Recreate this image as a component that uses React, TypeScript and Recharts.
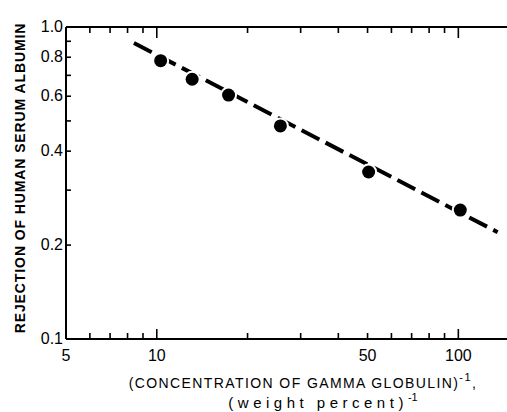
import { ComposedChart, Line, Scatter, XAxis, YAxis } from 'recharts';

// measured points: 1 / concentration of gamma globulin vs rejection of HSA
const concInv = [10.3, 13.1, 17.3, 25.7, 50.4, 101.5];
const rejection = [0.78, 0.68, 0.605, 0.482, 0.343, 0.259];

// fitted straight line (log-log), end points
const fitX = [8.4, 135];
const fitY = [0.889, 0.22];

const xTicks = [5, 6, 7, 8, 9, 10, 20, 30, 40, 50, 60, 70, 80, 90, 100];
const xTickLabels: Record<number, string> = { 5: '5', 10: '10', 50: '50', 100: '100' };
const yTicks = [0.1, 0.2, 0.3, 0.4, 0.5, 0.6, 0.7, 0.8, 0.9, 1.0];
const yTickLabels: Record<number, string> = { 0.1: '0.1', 0.2: '0.2', 0.4: '0.4', 0.6: '0.6', 0.8: '0.8', 1: '1.0' };

const points = concInv.map((x, i) => ({ x, y: rejection[i] }));
const fit = fitX.map((x, i) => ({ x, y: fitY[i] }));

const font = '"Liberation Sans", Arial, sans-serif';

const BottomTick = (props: any) => {
  const { x, y, payload } = props;
  const v = payload.value;
  const major = v === 10 || v === 100;
  const label = xTickLabels[v];
  return (
    <g>
      {v !== 5 && <line x1={x} x2={x} y1={y} y2={y - (major ? 10 : 6)} stroke="#000" strokeWidth={1.6} />}
      {label && (
        <text x={x} y={y + 22} textAnchor="middle" fontSize={16} fontFamily={font} fill="#000">
          {label}
        </text>
      )}
    </g>
  );
};

const TopTick = (props: any) => {
  const { x, y, payload } = props;
  const v = payload.value;
  if (v === 5) return <g />;
  const major = v === 10 || v === 100;
  return <line x1={x} x2={x} y1={y} y2={y + (major ? 11 : 6)} stroke="#000" strokeWidth={1.6} />;
};

const LeftTick = (props: any) => {
  const { x, y, payload } = props;
  const v = payload.value;
  const label = yTickLabels[Math.round(v * 10) / 10];
  return (
    <g>
      {v > 0.15 && v < 0.95 && <line x1={x} x2={x + 5} y1={y} y2={y} stroke="#000" strokeWidth={1.6} />}
      {label && (
        <text x={x - 3} y={y + 5} textAnchor="end" fontSize={16} fontFamily={font} fill="#000">
          {label}
        </text>
      )}
    </g>
  );
};

const XTitle = () => (
  <g fontFamily={font} fill="#000">
    <text x={303} y={388} textAnchor="middle" fontSize={14} letterSpacing={1.4}>
      (CONCENTRATION OF GAMMA GLOBULIN)
      <tspan dy={-7} fontSize={11}>-1</tspan>
      <tspan dy={7}>,</tspan>
    </text>
    <text x={323} y={408} textAnchor="middle" fontSize={15} letterSpacing={4.5}>
      (weight percent)
      <tspan dy={-7} fontSize={11} letterSpacing={0}>-1</tspan>
    </text>
  </g>
);

const YTitle = () => (
  <text
    x={20}
    y={178}
    transform="rotate(-90, 20, 178)"
    textAnchor="middle"
    dominantBaseline="central"
    fontSize={14}
    fontWeight="bold"
    letterSpacing={0.9}
    fontFamily={font}
    fill="#000"
  >
    REJECTION OF HUMAN SERUM ALBUMIN
  </text>
);

const Dot = (p: any) => (
  <g>
    <circle cx={p.cx} cy={p.cy} r={8.5} fill="#fff" />
    <circle cx={p.cx} cy={p.cy} r={6.5} fill="#000" />
  </g>
);

export default function App() {
  return (
    <div style={{ position: 'absolute', left: 0, top: 0, background: '#fff' }}>
      <ComposedChart width={507} height={412} margin={{ top: 26, right: 0, bottom: 0, left: 0 }}>
        <XAxis
          type="number"
          dataKey="x"
          scale="log"
          domain={[5, 145]}
          allowDataOverflow
          ticks={xTicks}
          interval={0}
          height={73}
          tickSize={0}
          tickMargin={0}
          tick={<BottomTick />}
          stroke="#000"
          axisLine={{ stroke: '#000', strokeWidth: 2 }}
          label={<XTitle />}
        />
        <XAxis
          xAxisId="top"
          orientation="top"
          type="number"
          dataKey="x"
          scale="log"
          domain={[5, 145]}
          allowDataOverflow
          ticks={xTicks}
          interval={0}
          height={1}
          tickSize={0}
          tickMargin={0}
          tick={<TopTick />}
          stroke="#000"
          axisLine={{ stroke: '#000', strokeWidth: 2 }}
        />
        <YAxis
          type="number"
          dataKey="y"
          scale="log"
          domain={[0.1, 1]}
          allowDataOverflow
          ticks={yTicks}
          interval={0}
          width={66}
          tickSize={0}
          tickMargin={0}
          tick={<LeftTick />}
          stroke="#000"
          axisLine={{ stroke: '#000', strokeWidth: 2 }}
          label={<YTitle />}
        />
        <Line
          data={fit}
          dataKey="y"
          type="linear"
          stroke="#000"
          strokeWidth={4}
          strokeDasharray="20 7"
          dot={false}
          activeDot={false}
          isAnimationActive={false}
        />
        <Scatter data={points} dataKey="y" fill="#000" isAnimationActive={false} shape={Dot} />
      </ComposedChart>
    </div>
  );
}
